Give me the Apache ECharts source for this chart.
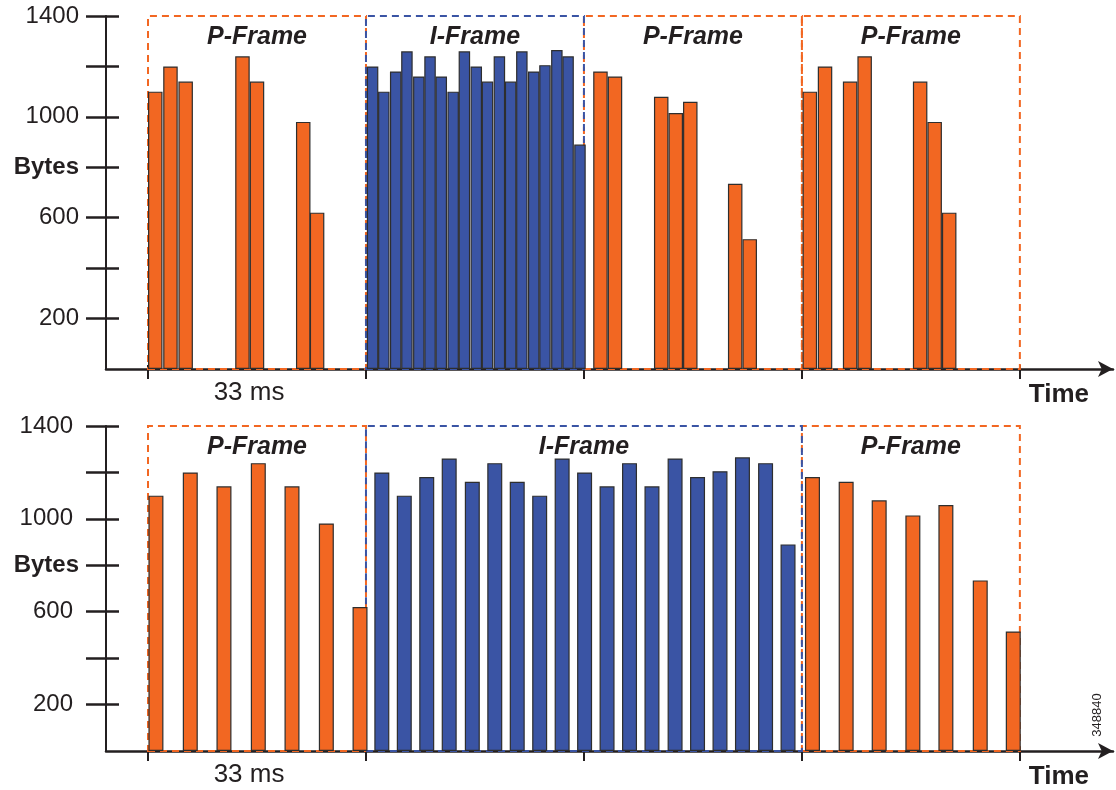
<!DOCTYPE html>
<html><head><meta charset="utf-8">
<script src="https://cdn.jsdelivr.net/npm/echarts@6/dist/echarts.min.js"></script>
<style>html,body{margin:0;padding:0;background:#fff}#c{width:1116px;height:790px}</style>
</head><body><div id="c"></div>
<script>
// ---- data (time in ms, size in bytes) ----
const topPTimes = [1.1, 3.4, 5.7, 14.3, 16.5, 23.5, 25.6, 68.5, 70.7, 77.7, 79.9, 82.1, 88.9, 91.1, 100.2, 102.5, 106.3, 108.5, 116.9, 119.1, 121.3];
const topPBytes = [1100, 1200, 1140, 1240, 1140, 980, 620, 1180, 1160, 1080, 1015, 1060, 735, 515, 1100, 1200, 1140, 1240, 1140, 980, 620];
const topITimes = [34.0, 35.7, 37.5, 39.2, 41.0, 42.7, 44.4, 46.2, 47.9, 49.7, 51.4, 53.2, 54.9, 56.6, 58.4, 60.1, 61.9, 63.6, 65.4];
const topIBytes = [1200, 1100, 1180, 1260, 1160, 1240, 1160, 1100, 1260, 1200, 1140, 1240, 1140, 1260, 1180, 1205, 1265, 1240, 890];

const botPTimes = [1.2, 6.4, 11.5, 16.7, 21.8, 27.0, 32.1, 100.6, 105.7, 110.7, 115.8, 120.8, 126.0, 131.0];
const botPBytes = [1100, 1200, 1140, 1240, 1140, 980, 620, 1180, 1160, 1080, 1015, 1060, 735, 515];
const botITimes = [35.4, 38.8, 42.2, 45.6, 49.1, 52.5, 55.9, 59.3, 62.7, 66.1, 69.5, 72.9, 76.3, 79.8, 83.2, 86.6, 90.0, 93.5, 96.9];
const botIBytes = [1200, 1100, 1180, 1260, 1160, 1240, 1160, 1100, 1260, 1200, 1140, 1240, 1140, 1260, 1180, 1205, 1265, 1240, 890];

// frames: [label, start ms, end ms, kind]
const topFrames = [['P-Frame', 0, 33, 'P'], ['I-Frame', 33, 66, 'I'], ['P-Frame', 66, 99, 'P'], ['P-Frame', 99, 132, 'P']];
const botFrames = [['P-Frame', 0, 33, 'P'], ['I-Frame', 33, 99, 'I'], ['P-Frame', 99, 132, 'P']];

const xTickValues = [0, 33, 66, 99, 132];
const xLabelValues = [15.3];
const xLabelTexts = ['33 ms'];
const yTickValues = [200, 400, 600, 800, 1000, 1200, 1400];
const yLabelValues = [200, 600, 800, 1000, 1400];
const yLabelTexts = ['200', '600', 'Bytes', '1000', '1400'];
const yMax = 1400;

// ---- styling ----
const INK = '#231f20', ORANGE = '#f26722', BLUE = '#3a54a4';
const FONT = '"Liberation Sans", Arial, sans-serif';
const X_MIN = -6.36, X_MAX = 146.1;

function xMain(gi) {
  return {
    type: 'value', gridIndex: gi, position: 'bottom', min: X_MIN, max: X_MAX,
    axisLine: { show: true, onZero: false, symbol: ['none', 'arrow'], symbolSize: [12, 15], lineStyle: { color: INK, width: 2.5 } },
    axisTick: { show: true, customValues: xTickValues, length: 10, lineStyle: { color: INK, width: 2 } },
    axisLabel: { customValues: xLabelValues, formatter: v => xLabelTexts[xLabelValues.indexOf(v)] || '', margin: 11, fontSize: 26, color: INK, fontFamily: FONT },
    splitLine: { show: false },
    name: 'Time', nameLocation: 'end', nameGap: -24,
    nameTextStyle: { fontSize: 26, fontWeight: 'bold', color: INK, fontFamily: FONT, align: 'right', verticalAlign: 'top', padding: [13, 0, 0, 0] }
  };
}
function xAux(gi) {
  return {
    type: 'value', gridIndex: gi, position: 'bottom', min: X_MIN, max: X_MAX,
    axisLine: { show: false, onZero: false },
    axisTick: { show: true, inside: true, customValues: xTickValues, length: 4, lineStyle: { color: INK, width: 2 } },
    axisLabel: { show: false }, splitLine: { show: false }
  };
}
function yMain(gi, numPad) {
  return {
    type: 'value', gridIndex: gi, position: 'left', min: 0, max: yMax,
    axisLine: { show: true, onZero: false, lineStyle: { color: INK, width: 2 } },
    axisTick: { show: true, customValues: yTickValues, length: 20, lineStyle: { color: INK, width: 2.5 } },
    axisLabel: {
      customValues: yLabelValues, margin: 27, color: INK, fontFamily: FONT, fontSize: 24,
      formatter: v => { const t = yLabelTexts[yLabelValues.indexOf(v)]; return t === 'Bytes' ? '{b|Bytes}' : '{n|' + t + '}'; },
      rich: { b: { fontSize: 24, fontWeight: 'bold', color: INK, fontFamily: FONT }, n: { fontSize: 24, color: INK, fontFamily: FONT, padding: [0, numPad, 0, 0] } }
    },
    splitLine: { show: false }
  };
}
function yAux(gi) {
  return {
    type: 'value', gridIndex: gi, position: 'left', offset: 0, min: 0, max: yMax,
    axisLine: { show: false, onZero: false },
    axisTick: { show: true, inside: true, customValues: yTickValues, length: 13, lineStyle: { color: INK, width: 2.5 } },
    axisLabel: { show: false }, splitLine: { show: false }
  };
}
function areas(frames, kind) {
  return frames.filter(f => f[3] === kind).map(f => [
    { name: f[0], xAxis: f[1], yAxis: yMax }, { xAxis: f[2], yAxis: 0 }
  ]);
}
function markArea(frames, kind, color) {
  return {
    silent: true,
    itemStyle: { color: 'rgba(0,0,0,0)', borderColor: color, borderWidth: 2, borderType: [7, 5] },
    label: { show: true, position: 'insideTop', distance: 10, fontSize: 25, fontWeight: 'bold', fontStyle: 'italic', color: INK, fontFamily: FONT },
    data: areas(frames, kind)
  };
}
function bars(times, bytes, xi, yi, width, color, frames, kind, z) {
  return {
    type: 'bar', xAxisIndex: xi, yAxisIndex: yi, barWidth: width, z: z,
    data: times.map((t, i) => [t, bytes[i]]),
    itemStyle: { color: color, borderColor: '#2e2e2e', borderWidth: 1.2 },
    markArea: markArea(frames, kind, kind === 'P' ? ORANGE : BLUE),
    animation: false
  };
}

const option = {
  backgroundColor: '#fff',
  animation: false,
  grid: [
    { left: 106, top: 16, width: 1007, height: 353 },
    { left: 106, top: 426, width: 1007, height: 328 }
  ],
  xAxis: [xMain(0), xAux(0), xMain(1), xAux(1)],
  yAxis: [yMain(0, 0), yAux(0), yMain(1, 6), yAux(1)],
  series: [
    bars(topPTimes, topPBytes, 0, 0, 14.5, ORANGE, topFrames, 'P', 2),
    bars(topITimes, topIBytes, 1, 0, 11.5, BLUE, topFrames, 'I', 3),
    bars(botPTimes, botPBytes, 2, 2, 15, ORANGE, botFrames, 'P', 2),
    bars(botITimes, botIBytes, 3, 2, 15, BLUE, botFrames, 'I', 3)
  ],
  graphic: [
    { type: 'text', x: 1097, y: 715, rotation: Math.PI / 2,
      style: { text: '348840', fill: INK, font: '13px "Liberation Sans", Arial, sans-serif', align: 'center', verticalAlign: 'middle' } }
  ]
};
const chart = echarts.init(document.getElementById('c'));
chart.setOption(option);
</script>
</body></html>
